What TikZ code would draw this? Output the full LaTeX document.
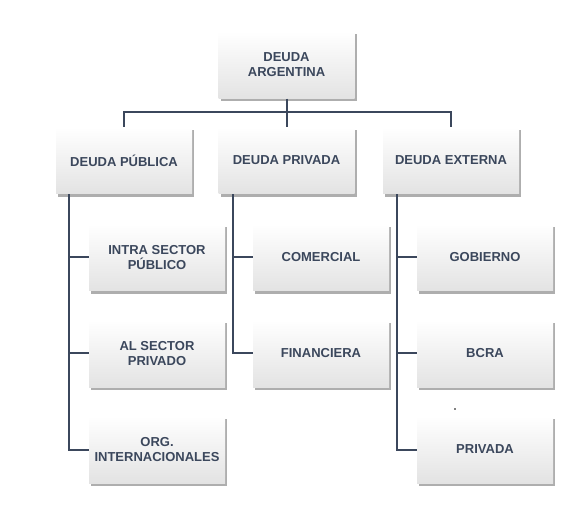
\documentclass[tikz,border=0pt]{standalone}
\usepackage{fontspec}
\setmainfont{Liberation Sans}
\usetikzlibrary{shadows}
\definecolor{ink}{HTML}{3B475C}
\begin{document}
\begin{tikzpicture}[x=1pt,y=-1pt,
  box/.style={minimum width=136pt,minimum height=67pt,align=center,inner sep=1pt,
    top color=white,bottom color=black!11,font=\bfseries\fontsize{13}{15}\selectfont,text=ink,
    drop shadow={shadow xshift=2pt,shadow yshift=-3pt,opacity=0.45,fill=black!70}},
  conn/.style={draw=ink,line width=2pt}]
\useasboundingbox (0,0) rectangle (586,510);
\node[box] (root) at (286.5,65) {DEUDA\\ARGENTINA};
\node[box] (pub) at (124,160.5) {DEUDA PÚBLICA};
\node[box] (pri) at (286.5,160.5) {DEUDA PRIVADA};
\node[box] (ext) at (451,160.5) {DEUDA EXTERNA};
\node[box] (p1) at (157,257.5) {INTRA SECTOR\\PÚBLICO};
\node[box] (p2) at (157,353.5) {AL SECTOR\\PRIVADO};
\node[box] (p3) at (157,449.5) {ORG.\\INTERNACIONALES};
\node[box] (v1) at (321,257.5) {COMERCIAL};
\node[box] (v2) at (321,353.5) {FINANCIERA};
\node[box] (e1) at (485,257.5) {GOBIERNO};
\node[box] (e2) at (485,353.5) {BCRA};
\node[box] (e3) at (485,449.5) {PRIVADA};
\coordinate (bus) at (286.5,112);
\draw[conn] (root.south) -- (bus);
\draw[conn] (pub.north) |- (bus) -| (ext.north);
\draw[conn] (bus) -- (pri.north);
\draw[conn] ([xshift=-55pt]pub.south) |- (p3.west);
\draw[conn] ([xshift=-55pt]pub.south) |- (p1.west);
\draw[conn] ([xshift=-55pt]pub.south) |- (p2.west);
\draw[conn] ([xshift=-54pt]pri.south) |- (v2.west);
\draw[conn] ([xshift=-54pt]pri.south) |- (v1.west);
\draw[conn] ([xshift=-54pt]ext.south) |- (e3.west);
\draw[conn] ([xshift=-54pt]ext.south) |- (e1.west);
\draw[conn] ([xshift=-54pt]ext.south) |- (e2.west);
\fill (455,409) circle (0.8pt);
\end{tikzpicture}
\end{document}
